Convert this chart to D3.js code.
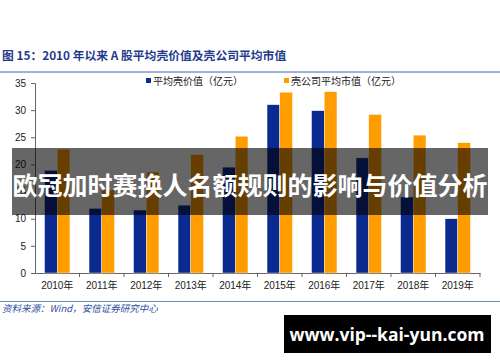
<!DOCTYPE html>
<html>
<head>
<meta charset="utf-8">
<script src="https://cdn.jsdelivr.net/npm/d3@7"></script>
<style>
  body { margin: 0; background: #fff; }
  text { font-family: "Liberation Sans", "Noto Sans CJK SC", sans-serif; }
</style>
</head>
<body>
<div id="my_dataviz"></div>
<script>
var Width = 500;
var Height = 362;

// data
var years = ["2010年", "2011年", "2012年", "2013年", "2014年", "2015年", "2016年", "2017年", "2018年", "2019年"];
var shellValue = [18.9, 11.9, 11.6, 12.5, 19.5, 31.0, 29.9, 21.2, 14.0, 10.0];
var shellMarketCap = [22.8, 15.3, 18.6, 21.8, 25.2, 33.3, 33.4, 29.2, 25.4, 24.0];
var yTicks = [0, 5, 10, 15, 20, 25, 30, 35];
var seriesNames = ["平均壳价值（亿元）", "壳公司平均市值（亿元）"];
var colors = ["#0b2a90", "#ff9c00"];

var margin = {top: 83, right: 20, bottom: 89, left: 35},
    width = Width - margin.left - margin.right,
    height = Height - margin.top - margin.bottom;

var svg = d3.select("#my_dataviz")
  .append("svg")
    .attr("width", Width)
    .attr("height", Height);

// title + rule
svg.append("text")
  .attr("x", 2).attr("y", 60)
  .text("图 15：2010 年以来 A 股平均壳价值及壳公司平均市值")
  .style("font-family", "'Noto Sans CJK SC', sans-serif")
  .style("font-weight", "bold")
  .style("font-size", "11.8px")
  .style("fill", "#1f3c8c")
svg.append("line")
  .attr("x1", 0).attr("x2", 500).attr("y1", 72).attr("y2", 72)
  .style("stroke", "#3f63b0").style("stroke-width", 1)

var g = svg.append("g")
  .attr("transform", "translate(" + margin.left + "," + margin.top + ")");

var x = d3.scaleBand()
  .domain(years)
  .range([0, 445]);

var y = d3.scaleLinear()
  .domain([0, 35])
  .range([height, 0]);

// Y axis
var yAxis = g.append("g")
  .call(d3.axisLeft(y).tickValues(yTicks).tickSize(4).tickPadding(5))
yAxis.select(".domain").style("stroke", "#666")
yAxis.selectAll(".tick line").style("stroke", "#666")
yAxis.selectAll("text").style("font-size", "10px").style("fill", "#222")

// X axis (labels only, boundary ticks drawn by hand)
var xAxis = g.append("g")
  .attr("transform", "translate(0," + height + ")")
  .call(d3.axisBottom(x).tickSize(0).tickPadding(9))
xAxis.select(".domain").style("stroke", "#666")
xAxis.selectAll("text").style("font-size", "10px").style("fill", "#222")
  .style("font-family", "'Liberation Sans', 'Noto Sans CJK SC', sans-serif")
xAxis.selectAll("line.bound")
  .data(years.slice(1).concat(["end"]))
  .enter()
  .append("line")
    .attr("class", "bound")
    .attr("x1", function(d, i) { return i < years.length - 1 ? x(d) : x.range()[1]; })
    .attr("x2", function(d, i) { return i < years.length - 1 ? x(d) : x.range()[1]; })
    .attr("y1", 0).attr("y2", 4)
    .style("stroke", "#666")

// bars
var barW = 12.7;
var series = [shellValue, shellMarketCap];
series.forEach(function(vals, s) {
  g.append("g")
    .selectAll("rect")
    .data(vals)
    .enter()
    .append("rect")
      .attr("x", function(d, i) { return x(years[i]) + x.bandwidth() / 2 - barW + s * barW; })
      .attr("y", function(d) { return y(d); })
      .attr("width", barW)
      .attr("height", function(d) { return height - y(d); })
      .style("fill", colors[s])
      .style("stroke", "#fff")
      .style("stroke-width", 0.4)
})

// legend
var legendX = [146, 284];
seriesNames.forEach(function(name, i) {
  svg.append("rect").attr("x", legendX[i]).attr("y", 78).attr("width", 5).attr("height", 5).style("fill", colors[i])
  svg.append("text").attr("x", legendX[i] + 7).attr("y", 84.5).text(name)
    .style("font-family", "'Noto Sans CJK SC', sans-serif")
    .style("font-size", "10px").style("fill", "#222")
})

// bottom rule + source
svg.append("line")
  .attr("x1", 0).attr("x2", 500).attr("y1", 301.5).attr("y2", 301.5)
  .style("stroke", "#6f8cc8").style("stroke-width", 1)
svg.append("text")
  .attr("x", 2).attr("y", 312)
  .text("资料来源：Wind，安信证券研究中心")
  .style("font-family", "'Noto Sans CJK SC', sans-serif")
  .style("font-style", "italic")
  .style("font-size", "9.5px")
  .style("fill", "#2f4f9f")

// overlay banner
svg.append("rect")
  .attr("x", 12).attr("y", 148).attr("width", 476).attr("height", 67)
  .style("fill", "#000").style("opacity", 0.6)
svg.append("text")
  .attr("x", 250).attr("y", 195)
  .attr("text-anchor", "middle")
  .text("欧冠加时赛换人名额规则的影响与价值分析")
  .style("font-family", "'Noto Sans CJK SC', sans-serif")
  .style("font-weight", "bold")
  .style("font-size", "25px")
  .style("fill", "#fff")

// url box
svg.append("rect")
  .attr("x", 284).attr("y", 315).attr("width", 207).attr("height", 38)
  .style("fill", "#000")
svg.append("text")
  .attr("x", 387).attr("y", 341)
  .attr("text-anchor", "middle")
  .text("www.vip--kai-yun.com")
  .style("font-family", "'Open Sans', 'DejaVu Sans', sans-serif")
  .style("font-weight", "bold")
  .style("font-size", "17.5px")
  .style("fill", "#fff")
</script>
</body>
</html>
